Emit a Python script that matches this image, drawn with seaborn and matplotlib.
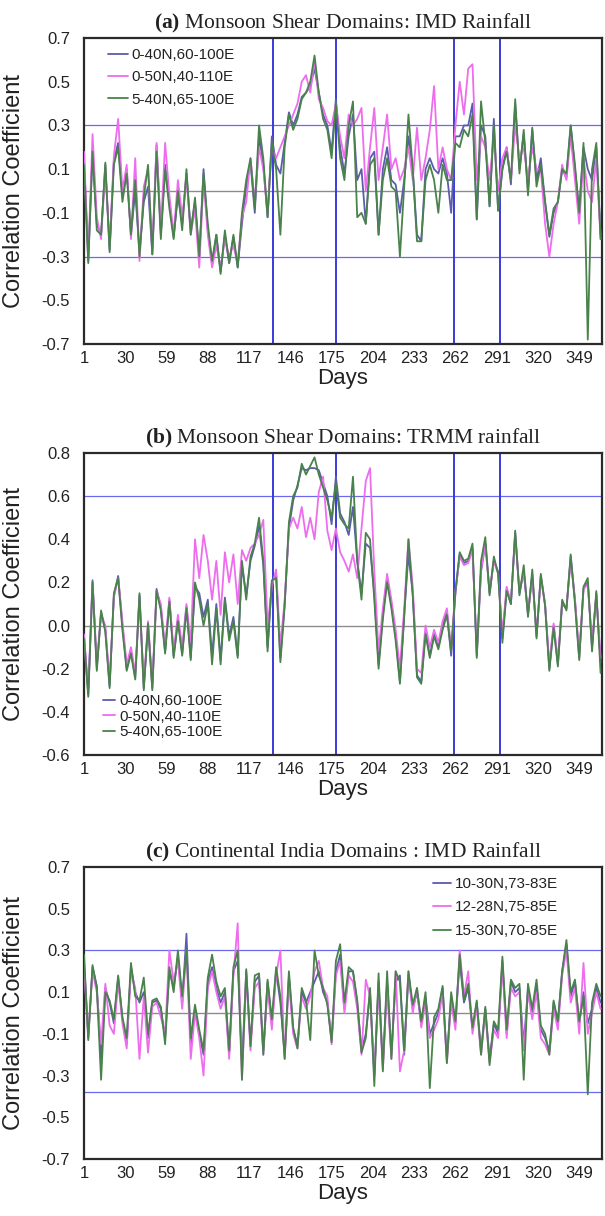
import numpy as np
import pandas as pd
import matplotlib
matplotlib.use("Agg")
import matplotlib.pyplot as plt
import seaborn as sns

# ---------------- data (every 3rd day) ----------------
days = list(range(1, 365, 3))  # 1, 4, ..., 364

labels_ab = ["0-40N,60-100E", "0-50N,40-110E", "5-40N,65-100E"]
labels_c = ["10-30N,73-83E", "12-28N,75-85E", "15-30N,70-85E"]

a1 = [0.15, -0.32, 0.18, -0.15, -0.2, 0.12, -0.27, 0.14, 0.22, -0.02,
      0.1, -0.2, 0.0, -0.28, -0.05, 0.02, -0.29, 0.21, -0.2, 0.12,
      -0.05, -0.21, -0.02, -0.15, 0.08, -0.18, -0.05, -0.3, 0.1, -0.18,
      -0.33, -0.2, -0.37, -0.2, -0.33, -0.21, -0.35, -0.15, 0.02, 0.13,
      -0.1, 0.25, 0.12, -0.12, 0.25, 0.12, 0.08, 0.22, 0.36, 0.3,
      0.35, 0.43, 0.45, 0.48, 0.56, 0.45, 0.35, 0.3, 0.18, 0.42,
      0.2, 0.08, 0.25, 0.35, 0.05, 0.1, -0.15, 0.15, 0.18, -0.2,
      0.1, 0.2, 0.05, 0.03, -0.1, 0.05, 0.25, 0.1, -0.2, -0.23,
      0.1, 0.15, 0.1, 0.08, 0.15, 0.08, -0.1, 0.25, 0.25, 0.3,
      0.3, 0.4, -0.13, 0.3, 0.25, -0.07, 0.33, -0.09, 0.1, 0.2,
      0.03, 0.4, 0.1, 0.26, 0.0, 0.28, 0.05, 0.15, -0.05, -0.21,
      -0.1, -0.05, 0.1, 0.06, 0.3, 0.1, -0.09, 0.2, 0.1, 0.05,
      0.2, -0.2]
a2 = [0.18, -0.3, 0.26, -0.12, -0.22, 0.1, -0.25, 0.16, 0.33, 0.0,
      0.12, -0.22, 0.15, -0.32, 0.02, 0.1, -0.27, 0.22, -0.18, 0.22,
      -0.02, -0.2, 0.05, -0.12, 0.06, -0.2, -0.08, -0.35, 0.05, -0.2,
      -0.35, -0.25, -0.35, -0.22, -0.3, -0.25, -0.33, -0.12, -0.05, 0.15,
      -0.05, 0.2, 0.1, -0.1, 0.2, 0.15, 0.2, 0.25, 0.3, 0.35,
      0.4, 0.5, 0.53, 0.45, 0.6, 0.42, 0.38, 0.32, 0.3, 0.4,
      0.25, 0.15, 0.35, 0.3, 0.33, 0.38, 0.0, 0.2, 0.38, 0.05,
      0.2, 0.35, 0.1, 0.15, 0.05, 0.1, 0.2, 0.05, 0.29, 0.05,
      0.15, 0.28, 0.48, 0.1, 0.2, 0.1, 0.05, 0.3, 0.5, 0.35,
      0.56, 0.58, 0.05, 0.25, 0.2, 0.05, 0.25, 0.0, 0.15, 0.2,
      0.05, 0.3, 0.15, 0.2, 0.05, 0.2, 0.1, 0.1, -0.15, -0.3,
      -0.15, -0.05, 0.12, 0.05, 0.25, 0.05, -0.15, 0.15, 0.0, -0.05,
      0.15, -0.22]
a3 = [0.12, -0.33, 0.18, -0.18, -0.2, 0.13, -0.28, 0.12, 0.2, -0.05,
      0.08, -0.2, 0.05, -0.3, -0.03, 0.12, -0.29, 0.18, -0.22, 0.1,
      -0.08, -0.22, 0.0, -0.18, 0.1, -0.2, -0.03, -0.3, 0.08, -0.15,
      -0.32, -0.2, -0.38, -0.18, -0.33, -0.2, -0.35, -0.1, 0.05, 0.15,
      -0.08, 0.3, 0.15, -0.12, 0.22, 0.1, -0.2, 0.2, 0.35, 0.28,
      0.33, 0.42, 0.45, 0.5, 0.62, 0.45, 0.33, 0.28, 0.15, 0.4,
      0.15, 0.05, 0.3, 0.41, -0.12, -0.1, -0.15, 0.12, 0.15, -0.2,
      0.05, 0.15, 0.02, 0.0, -0.3, 0.02, 0.35, 0.1, -0.23, -0.23,
      0.05, 0.12, 0.05, -0.1, 0.12, 0.05, 0.05, 0.22, 0.2, 0.28,
      0.25, 0.35, -0.13, 0.41, 0.22, -0.07, 0.3, -0.09, 0.1, 0.18,
      0.05, 0.42, 0.08, 0.28, -0.02, 0.29, 0.02, 0.12, -0.05, -0.2,
      -0.08, -0.05, 0.1, 0.08, 0.3, 0.12, -0.1, 0.22, -0.68, 0.1,
      0.22, -0.22]

b1 = [-0.05, -0.32, 0.21, -0.2, 0.06, -0.02, -0.28, 0.14, 0.23, 0.0,
      -0.2, -0.12, -0.24, 0.14, -0.29, 0.0, -0.29, 0.17, 0.08, -0.12,
      0.12, -0.14, 0.03, -0.13, 0.09, -0.15, 0.18, 0.15, 0.04, 0.12,
      -0.14, 0.1, -0.16, 0.13, -0.05, 0.04, -0.14, 0.28, 0.14, 0.3,
      0.37, 0.46, 0.28, -0.1, 0.2, 0.24, -0.15, 0.1, 0.45, 0.58,
      0.65, 0.73, 0.72, 0.73, 0.73, 0.72, 0.66, 0.6, 0.47, 0.69,
      0.52, 0.48, 0.42, 0.55, 0.3, 0.15, 0.38, 0.36, 0.15, -0.18,
      0.05, 0.22, 0.1, -0.05, -0.26, 0.05, 0.33, 0.15, -0.23, -0.26,
      -0.03, -0.14, -0.04, -0.1, 0.0, 0.06, -0.14, 0.15, 0.33, 0.29,
      0.3, 0.36, -0.14, 0.25, 0.38, 0.15, 0.3, 0.25, -0.06, 0.17,
      0.1, 0.43, 0.15, 0.25, 0.05, 0.24, -0.05, 0.23, 0.1, -0.2,
      0.0, -0.18, 0.1, 0.08, 0.32, 0.12, -0.15, 0.17, 0.2, -0.1,
      0.15, -0.17]
b2 = [-0.04, -0.3, 0.2, -0.18, 0.05, 0.0, -0.26, 0.13, 0.22, 0.02,
      -0.18, -0.1, -0.22, 0.13, -0.27, 0.02, -0.27, 0.16, 0.1, -0.1,
      0.13, -0.12, 0.05, -0.1, 0.1, -0.08, 0.4, 0.22, 0.42, 0.3,
      0.12, 0.3, 0.05, 0.34, 0.2, 0.33, 0.1, 0.35, 0.3, 0.36,
      0.38, 0.42, 0.49, 0.0, 0.18, 0.26, -0.1, 0.12, 0.45, 0.5,
      0.45, 0.55, 0.41, 0.5, 0.4, 0.62, 0.69, 0.44, 0.35, 0.45,
      0.34, 0.3, 0.25, 0.33, 0.22, 0.45, 0.67, 0.73, 0.25, -0.12,
      0.08, 0.24, 0.12, -0.02, -0.2, 0.08, 0.4, 0.18, -0.2, -0.22,
      0.0, -0.1, -0.02, -0.08, 0.02, 0.08, -0.1, 0.16, 0.32, 0.28,
      0.29, 0.35, -0.12, 0.26, 0.38, 0.16, 0.3, 0.24, -0.04, 0.18,
      0.11, 0.42, 0.16, 0.25, 0.06, 0.23, -0.04, 0.22, 0.1, -0.18,
      0.01, -0.16, 0.11, 0.08, 0.3, 0.12, -0.13, 0.17, 0.19, -0.08,
      0.14, -0.15]
b3 = [-0.06, -0.33, 0.2, -0.21, 0.07, -0.03, -0.29, 0.15, 0.22, -0.02,
      -0.21, -0.13, -0.25, 0.15, -0.3, 0.01, -0.3, 0.16, 0.07, -0.13,
      0.11, -0.15, 0.02, -0.14, 0.08, -0.16, 0.2, 0.12, 0.0, 0.1,
      -0.18, 0.08, -0.18, 0.12, -0.07, 0.02, -0.15, 0.3, 0.12, 0.32,
      0.38, 0.5, 0.3, -0.12, 0.21, 0.22, -0.17, 0.09, 0.48, 0.6,
      0.64, 0.75, 0.7, 0.74, 0.78, 0.7, 0.64, 0.58, 0.5, 0.66,
      0.5, 0.47, 0.45, 0.69, 0.3, 0.12, 0.43, 0.4, 0.12, -0.2,
      0.03, 0.2, 0.08, -0.07, -0.27, 0.04, 0.4, 0.14, -0.24, -0.27,
      -0.04, -0.15, -0.05, -0.11, -0.02, 0.05, -0.12, 0.16, 0.34, 0.3,
      0.31, 0.38, -0.15, 0.3, 0.41, 0.14, 0.32, 0.24, -0.08, 0.16,
      0.1, 0.44, 0.14, 0.28, 0.04, 0.26, -0.06, 0.24, 0.09, -0.21,
      -0.01, -0.19, 0.12, 0.07, 0.33, 0.1, -0.16, 0.18, 0.22, -0.12,
      0.16, -0.22]

c1 = [0.25, -0.12, 0.22, 0.13, -0.22, 0.12, 0.05, -0.05, 0.17, -0.03,
      -0.15, 0.22, 0.1, 0.05, 0.1, -0.12, 0.05, 0.06, 0.02, -0.12,
      0.2, 0.12, 0.27, 0.05, 0.38, -0.15, 0.02, -0.1, -0.2, 0.15,
      0.22, 0.12, 0.05, 0.1, -0.2, 0.2, 0.25, -0.25, 0.2, -0.15,
      0.15, 0.18, -0.18, 0.15, -0.05, 0.2, 0.05, -0.2, 0.18, -0.08,
      -0.15, 0.1, 0.05, 0.1, 0.15, 0.2, 0.1, 0.05, -0.13, 0.2,
      0.28, 0.02, 0.2, 0.2, 0.05, -0.18, -0.1, 0.1, -0.3, 0.15,
      -0.25, 0.15, -0.2, 0.15, 0.18, -0.2, 0.18, 0.02, 0.1, -0.05,
      0.08, -0.1, -0.05, 0.0, 0.12, -0.22, 0.08, -0.05, 0.25, 0.05,
      0.12, -0.08, 0.05, -0.18, 0.02, -0.22, -0.05, -0.1, 0.25, -0.1,
      0.15, 0.1, 0.12, -0.15, 0.12, 0.0, 0.12, -0.08, -0.12, -0.18,
      0.05, -0.05, 0.2, 0.33, 0.08, 0.15, -0.05, 0.1, -0.05, 0.02,
      0.12, 0.05]
c2 = [0.22, -0.1, 0.2, 0.1, -0.15, 0.14, -0.06, -0.1, 0.15, -0.05,
      -0.17, 0.2, 0.12, -0.22, 0.08, -0.19, 0.03, 0.05, -0.02, -0.1,
      0.3, 0.15, 0.25, 0.02, 0.3, -0.22, 0.0, -0.12, -0.3, 0.12,
      0.2, 0.1, 0.02, 0.08, -0.22, 0.18, 0.43, -0.32, 0.18, -0.18,
      0.12, 0.15, -0.2, 0.12, -0.08, 0.18, 0.3, -0.22, 0.15, -0.1,
      -0.17, 0.08, 0.02, 0.08, 0.2, 0.25, 0.12, 0.08, -0.15, 0.18,
      0.25, 0.0, 0.18, 0.15, 0.02, -0.2, 0.16, 0.08, -0.3, 0.12,
      -0.27, 0.12, -0.22, 0.2, -0.28, -0.18, 0.2, 0.0, 0.12, -0.07,
      0.05, -0.12, -0.08, -0.03, 0.1, -0.24, 0.05, -0.08, 0.3, 0.08,
      0.2, -0.1, 0.03, -0.2, 0.0, -0.24, -0.08, -0.12, 0.22, -0.12,
      0.12, 0.08, 0.1, -0.18, 0.1, -0.03, 0.1, -0.12, -0.15, -0.2,
      0.02, -0.08, 0.18, 0.3, 0.05, 0.12, -0.1, 0.24, -0.1, 0.0,
      0.1, 0.02]
c3 = [0.28, -0.13, 0.23, 0.12, -0.32, 0.1, 0.06, -0.03, 0.18, -0.02,
      -0.12, 0.24, 0.08, 0.06, 0.17, -0.1, 0.06, 0.07, 0.03, -0.15,
      0.22, 0.1, 0.3, 0.08, 0.3, -0.12, 0.04, -0.08, -0.18, 0.17,
      0.28, 0.15, 0.08, 0.12, -0.18, 0.22, 0.3, -0.32, 0.21, -0.16,
      0.18, 0.19, -0.2, 0.16, -0.03, 0.22, 0.08, -0.22, 0.2, -0.07,
      -0.17, 0.12, 0.06, -0.13, 0.3, 0.18, 0.12, 0.04, -0.14, 0.25,
      0.33, 0.05, 0.22, 0.2, 0.06, -0.19, -0.12, 0.12, -0.35, 0.19,
      -0.28, 0.2, -0.22, 0.2, 0.15, -0.18, 0.2, 0.04, 0.12, -0.04,
      0.1, -0.36, -0.02, 0.02, 0.13, -0.24, 0.1, -0.04, 0.28, 0.06,
      0.14, -0.07, 0.06, -0.2, 0.03, -0.25, -0.04, -0.08, 0.27, -0.08,
      0.16, 0.12, 0.14, -0.32, 0.14, 0.02, 0.16, -0.06, -0.1, -0.2,
      0.06, -0.04, 0.2, 0.35, 0.1, 0.16, -0.04, 0.08, -0.39, 0.05,
      0.14, 0.08]

x_ticks = [1, 30, 59, 88, 117, 146, 175, 204, 233, 262, 291, 320, 349]
vlines_days = [134, 178, 261, 293]
titles = ["Monsoon Shear Domains: IMD Rainfall",
          "Monsoon Shear Domains: TRMM rainfall",
          "Continental India Domains : IMD Rainfall"]
tags = ["(a)", "(b)", "(c)"]

# ---------------- style ----------------
sns.set_style("white")
plt.rcParams["font.family"] = ["Liberation Sans", "DejaVu Sans"]
plt.rcParams["mathtext.fontset"] = "custom"
plt.rcParams["mathtext.rm"] = "Liberation Serif"
plt.rcParams["mathtext.bf"] = "Liberation Serif:bold"

colors = ["#5c5cac", "#ee6cee", "#4a824c"]

W, H = 605, 1216
fig = plt.figure(figsize=(W / 100, H / 100), dpi=100)


def add_ax(left, top, right, bottom):
    return fig.add_axes([left / W, 1 - bottom / H, (right - left) / W, (bottom - top) / H])


panels = [
    dict(box=(84, 38, 602, 344), series=[a1, a2, a3], names=labels_ab,
         ylim=(-0.7, 0.7), yticks=np.arange(-0.7, 0.71, 0.2), hl=[0.3, -0.3], vl=True,
         leg=dict(xy=(108, 48), ls=0.55, hl=1.3)),
    dict(box=(84, 453, 602, 755), series=[b1, b2, b3], names=labels_ab,
         ylim=(-0.6, 0.8), yticks=np.arange(-0.6, 0.81, 0.2), hl=[0.6], vl=True,
         leg=dict(xy=(103, 694), ls=0.1, hl=0.8)),
    dict(box=(84, 867, 602, 1159), series=[c1, c2, c3], names=labels_c,
         ylim=(-0.7, 0.7), yticks=np.arange(-0.7, 0.71, 0.2), hl=[0.3, -0.38], vl=False,
         leg=dict(xy=(433, 877), ls=0.62, hl=1.15)),
]

for k, p in enumerate(panels):
    L, T, R, B = p["box"]
    ax = add_ax(L, T, R, B)
    wpx, hpx = R - L, B - T

    frames = []
    for name, vals in zip(p["names"], p["series"]):
        frames.append(pd.DataFrame({"Day": days, "r": vals, "Domain": name}))
    df = pd.concat(frames, ignore_index=True)

    ax.axhline(0, color="#8c8c8c", lw=1.0, zorder=1)
    for h in p["hl"]:
        ax.axhline(h, color="#6a6af0", lw=0.9, zorder=1)
    if p["vl"]:
        for v in vlines_days:
            ax.axvline(v, color="#3a3ad8", lw=1.4, zorder=1)

    sns.lineplot(data=df, x="Day", y="r", hue="Domain", hue_order=p["names"],
                 palette=colors, estimator=None, errorbar=None, lw=1.3,
                 ax=ax, zorder=3)

    ax.set_xlim(1, 365)
    ax.set_ylim(*p["ylim"])
    ax.set_xticks(x_ticks)
    ax.set_yticks(p["yticks"])
    ax.set_yticklabels([f"{t:.1f}" for t in p["yticks"]])
    ax.tick_params(axis="both", length=0, labelsize=12, colors="#222222")
    ax.tick_params(axis="y", pad=10)
    ax.tick_params(axis="x", pad=5)
    for s in ax.spines.values():
        s.set_color("#2a2a2a")
        s.set_linewidth(1.6)

    ax.set_ylabel("Correlation Coefficient", fontsize=17, color="#222222")
    ax.yaxis.set_label_coords((25 - L) / wpx, 0.5)
    ax.set_xlabel("Days", fontsize=16, color="#222222")
    ax.xaxis.set_label_coords(0.5, -24 / hpx)

    ax.set_title(r"$\mathbf{" + tags[k] + r"}$ " + titles[k],
                 fontfamily="Liberation Serif", fontsize=15.5, pad=7, color="#222222")

    handles, labs = ax.get_legend_handles_labels()
    lx, ly = p["leg"]["xy"]
    leg = ax.legend(handles, labs, loc="upper left",
                    bbox_to_anchor=((lx - L) / wpx, (B - ly) / hpx),
                    frameon=False, fontsize=11, borderpad=0, borderaxespad=0,
                    handlelength=p["leg"]["hl"], handletextpad=0.25,
                    labelspacing=p["leg"]["ls"])
    for t in leg.get_texts():
        t.set_color("#222222")

fig.savefig("out.png", dpi=100)
